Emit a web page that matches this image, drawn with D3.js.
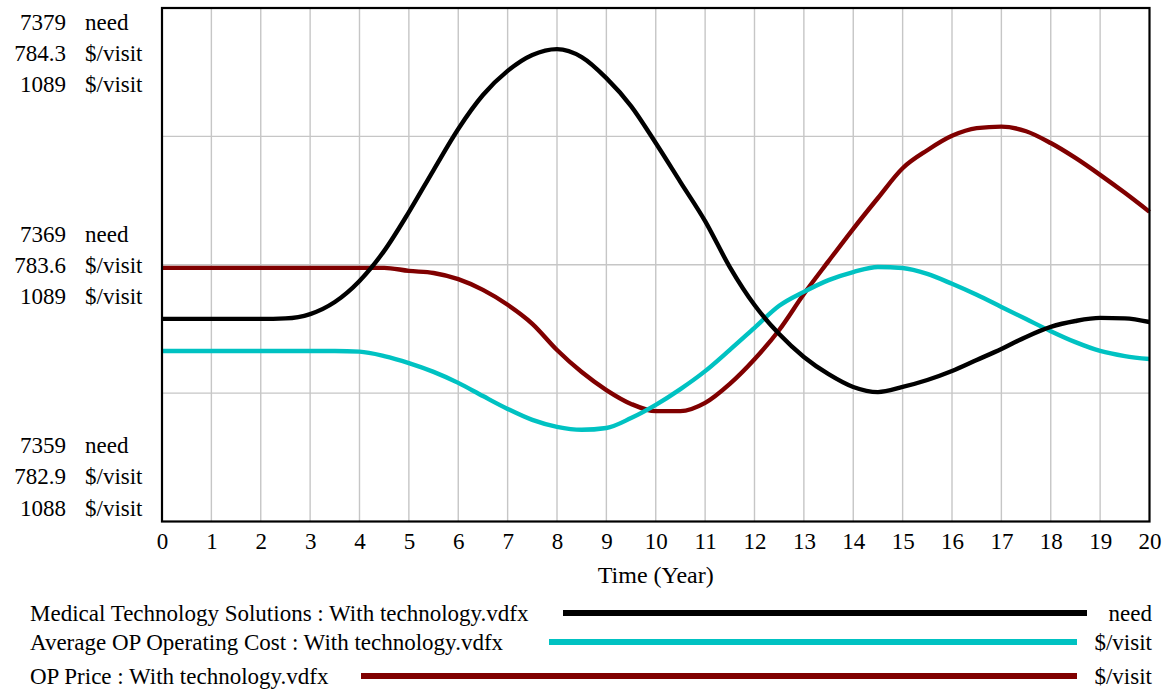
<!DOCTYPE html>
<html>
<head>
<meta charset="utf-8">
<script src="https://cdn.jsdelivr.net/npm/d3@7"></script>
<style>
  html, body { margin: 0; padding: 0; background: #fff; }
  svg { display: block; }
  text { font-family: "Liberation Serif", "Times New Roman", serif; fill: #000; }
</style>
</head>
<body>
<svg id="chart" width="1167" height="690"></svg>
<script>
// ---------- data ----------
const years = [0,0.5,1,1.5,2,2.5,3,3.5,4,4.5,5,5.5,6,6.5,7,7.5,8,8.5,9,9.5,10,10.5,11,11.5,12,12.5,13,13.5,14,14.5,15,15.5,16,16.5,17,17.5,18,18.5,19,19.5,20];

const techSolutions = [7366.89,7366.89,7366.89,7366.89,7366.89,7366.91,7367.08,7367.55,7368.37,7369.54,7371.05,7372.69,7374.29,7375.61,7376.55,7377.17,7377.40,7377.09,7376.27,7375.18,7373.74,7372.22,7370.70,7368.91,7367.43,7366.30,7365.41,7364.74,7364.24,7364.04,7364.24,7364.51,7364.86,7365.29,7365.72,7366.19,7366.58,7366.81,7366.93,7366.91,7366.77];

const opCost = [783.365,783.365,783.365,783.365,783.365,783.365,783.365,783.365,783.363,783.351,783.332,783.308,783.278,783.242,783.207,783.177,783.158,783.150,783.155,783.182,783.218,783.261,783.310,783.368,783.428,783.488,783.526,783.558,783.580,783.594,783.591,783.575,783.548,783.518,783.485,783.452,783.419,783.389,783.365,783.351,783.343];

const opPrice = [1088.894,1088.894,1088.894,1088.894,1088.894,1088.894,1088.894,1088.894,1088.894,1088.894,1088.888,1088.884,1088.872,1088.851,1088.822,1088.785,1088.734,1088.691,1088.656,1088.629,1088.615,1088.615,1088.631,1088.668,1088.716,1088.773,1088.843,1088.907,1088.970,1089.030,1089.088,1089.123,1089.151,1089.166,1089.169,1089.160,1089.137,1089.108,1089.075,1089.040,1089.003];

const xTicks = d3.range(0, 21, 1);
const needTicks = [7359, 7369, 7379];
const costTicks = [782.9, 783.6, 784.3];
const priceTicks = [1088.4, 1088.9, 1089.4];

const seriesNames = ["Medical Technology Solutions : With technology.vdfx",
                     "Average OP Operating Cost : With technology.vdfx",
                     "OP Price : With technology.vdfx"];
const seriesUnits = ["need", "$/visit", "$/visit"];
const seriesColors = ["#000000", "#00c2c2", "#800000"];
const xTitle = "Time (Year)";

// ---------- layout ----------
const svg = d3.select("#chart");
const L = 162, R = 1149.5, T = 8, B = 521.5;
const fs = 23;

const x = d3.scaleLinear().domain([0, 20]).range([L, R]);
const yNeed = d3.scaleLinear().domain([needTicks[0], needTicks[2]]).range([B, T]);
const yCost = d3.scaleLinear().domain([costTicks[0], costTicks[2]]).range([B, T]);
const yPrice = d3.scaleLinear().domain([priceTicks[0], priceTicks[2]]).range([B, T]);

// grid
const grid = svg.append("g").attr("stroke", "#c6c6c6").attr("stroke-width", 1.4);
grid.selectAll("line.v").data(xTicks.slice(1, -1)).join("line")
  .attr("x1", d => x(d)).attr("x2", d => x(d)).attr("y1", T).attr("y2", B);
const midTicks = d3.range(1, 4).map(i => needTicks[0] + i * (needTicks[2] - needTicks[0]) / 4);
grid.selectAll("line.h").data(midTicks).join("line")
  .attr("x1", L).attr("x2", R).attr("y1", d => yNeed(d)).attr("y2", d => yNeed(d));

// series lines
const series = [
  { vals: techSolutions, y: yNeed },
  { vals: opCost, y: yCost },
  { vals: opPrice, y: yPrice }
];
const drawOrder = [2, 1, 0];
drawOrder.forEach(i => {
  const s = series[i];
  const line = d3.line().x((d, k) => x(years[k])).y(d => s.y(d)).curve(d3.curveMonotoneX);
  svg.append("path").datum(s.vals).attr("d", line)
    .attr("fill", "none").attr("stroke", seriesColors[i]).attr("stroke-width", 4.4)
    .attr("stroke-linejoin", "round").attr("stroke-linecap", "butt");
});

// frame
svg.append("rect").attr("x", L).attr("y", T).attr("width", R - L).attr("height", B - T)
  .attr("fill", "none").attr("stroke", "#000").attr("stroke-width", 2.2);

// x axis labels
const xAxis = d3.axisBottom(x).tickValues(xTicks).tickSize(0).tickPadding(0).tickFormat(d3.format("d"));
const gx = svg.append("g").attr("transform", `translate(0,${B})`).call(xAxis);
gx.select(".domain").remove();
gx.selectAll("text").attr("font-size", fs).attr("font-family", "Liberation Serif")
  .attr("fill", "#000").attr("y", 19).attr("dy", "0.35em");

svg.append("text").attr("x", (L + R) / 2).attr("y", 575).attr("dy", "0.35em")
  .attr("text-anchor", "middle").attr("font-size", fs + 1).text(xTitle);

// left stacked axis labels
const fmts = [d3.format(".0f"), d3.format(".1f"), d3.format(".0f")];
const tickSets = [needTicks, costTicks, priceTicks];
const scales = [yNeed, yCost, yPrice];
const lab = svg.append("g").attr("font-size", fs);
[0, 1, 2].forEach(level => {          // 0 = bottom, 1 = middle, 2 = top
  [0, 1, 2].forEach(si => {
    const v = tickSets[si][level];
    let yy;
    const base = scales[si](v);
    if (level === 2) yy = base + 14 + si * 31;
    else if (level === 1) yy = base + (si - 1) * 31;
    else yy = base - 14 - (2 - si) * 31.5;
    lab.append("text").attr("x", 66).attr("y", yy).attr("dy", "0.35em")
      .attr("text-anchor", "end").text(fmts[si](v));
    lab.append("text").attr("x", 85).attr("y", yy).attr("dy", "0.35em")
      .attr("text-anchor", "start").text(seriesUnits[si]);
  });
});

// legend
const legY = [613, 642, 676];
const legLineStart = [563, 549, 361];
const legLineEnd = [1087, 1077, 1077];
const leg = svg.append("g").attr("font-size", fs);
seriesNames.forEach((name, i) => {
  leg.append("text").attr("x", 30).attr("y", legY[i]).attr("dy", "0.35em").text(name);
  leg.append("line").attr("x1", legLineStart[i]).attr("x2", legLineEnd[i])
    .attr("y1", legY[i]).attr("y2", legY[i])
    .attr("stroke", seriesColors[i]).attr("stroke-width", 6);
  leg.append("text").attr("x", 1152).attr("y", legY[i]).attr("dy", "0.35em")
    .attr("text-anchor", "end").text(seriesUnits[i]);
});
</script>
</body>
</html>
